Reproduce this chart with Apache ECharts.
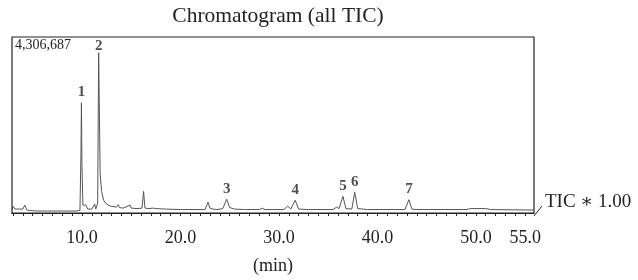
<!DOCTYPE html>
<html>
<head>
<meta charset="utf-8">
<script src="https://cdn.jsdelivr.net/npm/echarts@6/dist/echarts.min.js"></script>
<style>
  html, body { margin: 0; padding: 0; background: #fff; }
  #main { width: 638px; height: 280px; }
</style>
</head>
<body>
<div id="main"></div>
<script>
// retention time (min) and TIC intensity
var times = [2.9, 3.0, 3.2, 3.4, 3.6, 3.8, 4.0, 4.2, 4.4, 4.7, 5.5, 6.5, 6.9, 7.0, 7.1, 8.0, 9.4, 9.5, 9.6, 9.8,
  9.9, 9.95, 10.0, 10.1, 10.2, 10.4, 10.6, 11.0, 11.2, 11.3, 11.4, 11.6, 11.65, 11.7, 11.75, 11.85, 12.0, 12.2, 12.5, 12.9,
  13.5, 13.7, 13.8, 14.2, 14.9, 15.0, 15.6, 16.1, 16.26, 16.4, 16.8, 17.0, 17.2, 17.5, 18.5, 20.0, 22.5, 22.8, 23.0, 23.3,
  23.5, 23.7, 24.3, 24.7, 25.0, 25.5, 26.5, 28.0, 28.3, 28.6, 30.5, 30.9, 31.2, 31.65, 32.0, 33.0, 35.5, 35.85, 36.1, 36.5,
  36.8, 37.4, 37.7, 38.0, 39.0, 42.8, 43.2, 43.5, 44.0, 49.0, 49.5, 51.0, 51.5, 55.9];
var tic = [72000, 168000, 96000, 144000, 96000, 120000, 96000, 192000, 72000, 60000, 48000, 48000, 48000, 96000, 48000, 48000, 48000, 96000, 48000, 60000,
  1444000, 2695000, 1203000, 192000, 168000, 192000, 96000, 96000, 120000, 217000, 96000, 241000, 2165000, 3922000, 2887000, 962000, 529000, 313000, 217000, 168000,
  144000, 205000, 132000, 120000, 192000, 120000, 108000, 120000, 529000, 120000, 108000, 144000, 120000, 108000, 96000, 84000, 84000, 265000, 120000, 96000,
  144000, 84000, 108000, 337000, 132000, 96000, 84000, 84000, 120000, 84000, 84000, 168000, 96000, 313000, 96000, 84000, 84000, 144000, 108000, 409000,
  108000, 96000, 505000, 108000, 84000, 84000, 325000, 96000, 84000, 84000, 108000, 108000, 84000, 72000];

// numbered peaks
var peakNames = ['1', '2', '3', '4', '5', '6', '7'];
var peakTimes = [9.95, 11.7, 24.7, 31.65, 36.5, 37.7, 43.2];
var peakHeights = [2695000, 3922000, 337000, 313000, 409000, 505000, 325000];

var xLabels = [10, 20, 30, 40, 50, 55];
var xTicks = [];
for (var t = 3; t <= 55; t++) xTicks.push(t);
var fullScale = 4306687;

var serif = '"Liberation Serif", "DejaVu Serif", serif';

var myChart = echarts.init(document.getElementById('main'));
var option = {
  animation: false,
  title: {
    text: 'Chromatogram (all TIC)',
    left: 273,
    textAlign: 'center',
    top: 0,
    textStyle: { fontFamily: serif, fontSize: 21.5, fontWeight: 'normal', color: '#222' }
  },
  grid: {
    left: 12, right: 104, top: 37, bottom: 64,
    show: true, borderColor: '#222', borderWidth: 1.2, backgroundColor: 'transparent'
  },
  xAxis: {
    type: 'value',
    min: 2.9,
    max: 55.9,
    name: '(min)',
    nameLocation: 'middle',
    nameGap: 44,
    nameTextStyle: { fontFamily: serif, fontSize: 18, color: '#222' },
    axisLine: { show: true, onZero: false, lineStyle: { color: '#222', width: 1.2 } },
    axisTick: { show: true, customValues: xTicks, length: 3, inside: false, lineStyle: { color: '#222' } },
    axisLabel: {
      customValues: xLabels, margin: 16,
      fontFamily: serif, fontSize: 18, color: '#222',
      formatter: function (v) { return v.toFixed(1); }
    },
    splitLine: { show: false }
  },
  yAxis: {
    type: 'value',
    min: 0,
    max: fullScale,
    axisLine: { show: false },
    axisTick: { show: false },
    axisLabel: { show: false },
    splitLine: { show: false }
  },
  series: [
    {
      type: 'line',
      data: times.map(function (t, i) { return [t, tic[i]]; }),
      showSymbol: false,
      symbol: 'none',
      lineStyle: { color: '#555', width: 1 },
      z: 3
    },
    {
      type: 'scatter',
      data: peakTimes.map(function (t, i) {
        var item = { name: peakNames[i], value: [t, peakHeights[i]] };
        if (i === 1) item.label = { distance: -1 };
        return item;
      }),
      symbolSize: 0,
      label: {
        show: true,
        position: 'top',
        distance: 3,
        formatter: '{b}',
        fontFamily: serif, fontSize: 15, fontWeight: 'bold', color: '#222'
      },
      z: 4
    }
  ],
  graphic: [
    {
      type: 'text', left: 15, top: 38,
      style: { text: fullScale.toLocaleString('en-US'), font: '14px ' + serif, fill: '#222' }
    },
    {
      type: 'line', shape: { x1: 534, y1: 216, x2: 542, y2: 206 },
      style: { stroke: '#222', lineWidth: 1 }
    },
    {
      type: 'text', left: 545, top: 193,
      style: { text: 'TIC \u2217 1.00', font: '19px ' + serif, fill: '#222' }
    }
  ]
};
myChart.setOption(option);
</script>
</body>
</html>
